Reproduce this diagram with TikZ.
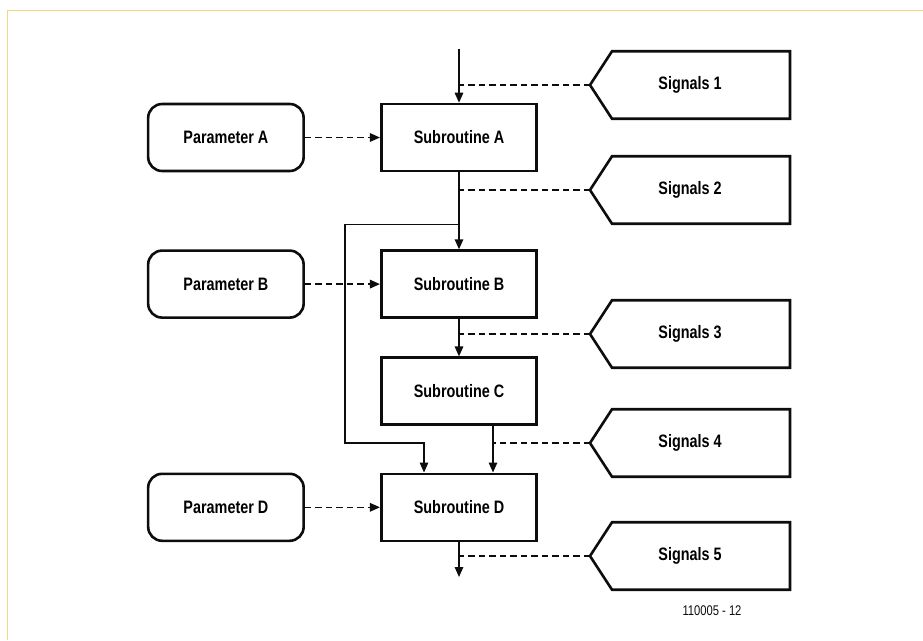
\documentclass[tikz,border=0pt]{standalone}
\usepackage{fontspec}
\usepackage{xcolor}
\usepackage{tikz}
\usetikzlibrary{calc,positioning,arrows.meta}
\newfontfamily\narrowsf{Liberation Sans}[FakeStretch=0.8]
\definecolor{Frame}{HTML}{F5D688}
\definecolor{Ink}{HTML}{0D0D0D}
\begin{document}
\begin{tikzpicture}[x=1pt,y=1pt,
  subbox/.style={draw=Ink,line width=2.6pt,minimum width=155.5pt,minimum height=67pt,font=\narrowsf\bfseries\fontsize{18}{21}\selectfont},
  parbox/.style={subbox,rounded corners=14pt},
  sigbox/.style={minimum width=200pt,minimum height=67.5pt,outer sep=0pt,font=\narrowsf\bfseries\fontsize{18}{21}\selectfont},
  sigedge/.style={draw=Ink,line width=2.6pt,line join=miter},
  flow/.style={draw=Ink,line width=1.5pt,-{Triangle[length=10pt,width=8.5pt]}},
  sigline/.style={draw=Ink,line width=1.5pt,dash pattern=on 6.5pt off 4pt}]
\useasboundingbox (0,0) rectangle (923,-640);
\draw[Frame,line width=1.7pt] (923,-10.5)--(7.5,-10.5)--(7.5,-640);
\node[subbox] (subA) at (459,-137.5) {Subroutine A};
\node[subbox,below=77pt of subA] (subB) {Subroutine B};
\node[subbox,below=37.5pt of subB] (subC) {Subroutine C};
\node[subbox,below=46.5pt of subC] (subD) {Subroutine D};
\node[parbox,left=75pt of subA] (parA) {Parameter A};
\node[parbox,left=75pt of subB] (parB) {Parameter B};
\node[parbox,left=75pt of subD] (parD) {Parameter D};
\node[sigbox] (sig1) at (690,-85) {Signals 1};
\node[sigbox] (sig2) at (690,-190) {Signals 2};
\node[sigbox] (sig3) at (690,-334) {Signals 3};
\node[sigbox] (sig4) at (690,-443) {Signals 4};
\node[sigbox] (sig5) at (690,-556) {Signals 5};
\foreach \s in {sig1,sig2,sig3,sig4,sig5}
  \draw[sigedge] (\s.north east)--([xshift=22pt]\s.north west)--(\s.west)--([xshift=22pt]\s.south west)--(\s.south east)--cycle;
\coordinate (top) at (459,-49);
\coordinate (bypL) at (345,-224.3);
\coordinate (dIn) at (424,-443);
\coordinate (out) at (459,-577);
\draw[flow] (top)--(subA);
\draw[flow] (subA)--(subB);
\draw[flow] (subB)--(subC);
\draw[flow] ([xshift=34pt]subC.south)--([xshift=34pt]subD.north);
\draw[flow] (subD)--(out);
\draw[flow] (subA |- bypL)--(bypL)|-(dIn)--(dIn |- subD.north);
\draw[sigline] (sig1.west)--(top |- sig1.west);
\draw[sigline] (sig2.west)--(subA |- sig2.west);
\draw[sigline] (sig3.west)--(subB |- sig3.west);
\draw[sigline] (sig4.west)--([xshift=34pt]subC.south |- sig4.west);
\draw[sigline] (sig5.west)--(subD |- sig5.west);
\draw[sigline,-{Triangle[length=10pt,width=8.5pt]}] (parA)--(subA);
\draw[sigline,-{Triangle[length=10pt,width=8.5pt]}] (parB)--(subB);
\draw[sigline,-{Triangle[length=10pt,width=8.5pt]}] (parD)--(subD);
\node[font=\narrowsf\fontsize{14}{17}\selectfont,text=Ink] (fig) at (712,-611) {110005 - 12};
\end{tikzpicture}
\end{document}
